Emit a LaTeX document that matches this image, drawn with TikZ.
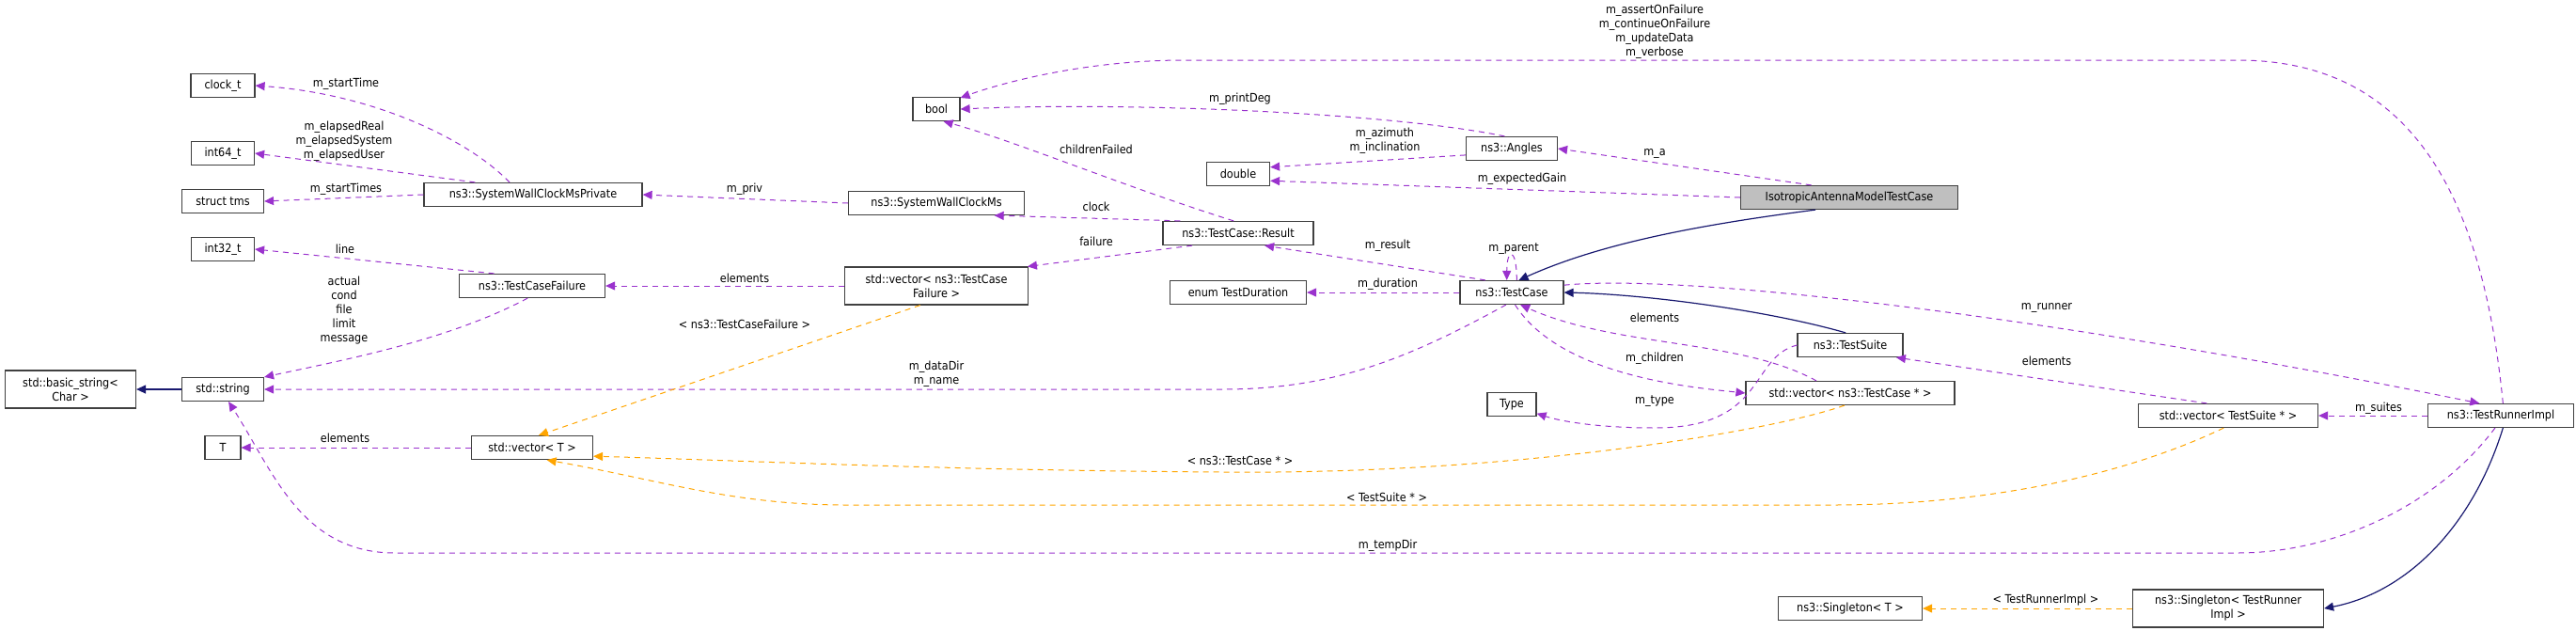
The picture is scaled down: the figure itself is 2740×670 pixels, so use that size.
\documentclass[tikz,border=0pt]{standalone}
\usepackage{fontspec}
\setmainfont{DejaVu Sans Condensed}
\usetikzlibrary{arrows.meta}
\definecolor{mp}{HTML}{9A32CD}
\definecolor{og}{HTML}{FFA500}
\definecolor{nb}{HTML}{191970}
\begin{document}
\begin{tikzpicture}[x=1pt,y=-1pt,
  font=\fontsize{12.5}{15}\selectfont,
  box/.style={draw=black!75,line width=1.2pt,fill=white,minimum height=25pt,inner sep=4pt,align=center},
  tip/.style={-{Triangle[length=10pt,width=9pt]}},
  mem/.style={tip,draw=mp,dash pattern=on 6pt off 5pt,line width=1pt},
  tpl/.style={tip,draw=og,dash pattern=on 6pt off 5pt,line width=1pt},
  inh/.style={tip,draw=nb,line width=1.2pt},
  lbl/.style={align=center,inner sep=0pt}]
\useasboundingbox (0,0) rectangle (2740,670);
% nodes
\node[box,minimum width=68pt] (clockt) at (237,91) {clock\_t};
\node[box,minimum width=67pt] (int64) at (237,163) {int64\_t};
\node[box,minimum width=87pt] (tms) at (237,214) {struct tms};
\node[box,minimum width=232pt] (swcmp) at (567,207) {ns3::SystemWallClockMsPrivate};
\node[box,minimum width=67pt] (int32) at (237,265) {int32\_t};
\node[box,minimum width=155pt] (tcf) at (566,304) {ns3::TestCaseFailure};
\node[box,minimum width=139pt,minimum height=40pt] (bstr) at (75,414) {std::basic\_string\textless\\Char \textgreater};
\node[box,minimum width=87pt] (str) at (237,414) {std::string};
\node[box,minimum width=38pt] (T) at (237,476) {T};
\node[box,minimum width=129pt] (vT) at (566,476) {std::vector\textless{} T \textgreater};
\node[box,minimum width=50pt] (bool) at (996,116) {bool};
\node[box,minimum width=67pt] (dbl) at (1317,185) {double};
\node[box,minimum width=97pt] (ang) at (1608,158) {ns3::Angles};
\node[box,minimum width=187pt] (swcms) at (996,216) {ns3::SystemWallClockMs};
\node[box,minimum width=160pt] (res) at (1317,248) {ns3::TestCase::Result};
\node[box,minimum width=195pt,minimum height=40pt] (vtcf) at (996,304) {std::vector\textless{} ns3::TestCase\\Failure \textgreater};
\node[box,minimum width=145pt] (enum) at (1317,311) {enum TestDuration};
\node[box,minimum width=110pt] (tc) at (1608,311) {ns3::TestCase};
\node[box,minimum width=52pt] (type) at (1608,430) {Type};
\node[box,minimum width=231pt,fill=black!25] (iso) at (1967,210) {IsotropicAntennaModelTestCase};
\node[box,minimum width=112pt] (ts) at (1968,367) {ns3::TestSuite};
\node[box,minimum width=222pt] (vtc) at (1968,418) {std::vector\textless{} ns3::TestCase * \textgreater};
\node[box,minimum width=191pt] (vts) at (2370,442) {std::vector\textless{} TestSuite * \textgreater};
\node[box,minimum width=155pt] (tri) at (2660,442) {ns3::TestRunnerImpl};
\node[box,minimum width=153pt] (sT) at (1968,647) {ns3::Singleton\textless{} T \textgreater};
\node[box,minimum width=203pt,minimum height=40pt] (stri) at (2370,647) {ns3::Singleton\textless{} TestRunner\\Impl \textgreater};
% member edges
\draw[mem] (swcmp.north) ++(-25,0) .. controls (500,150) and (400,100) .. (clockt.east);
\draw[mem] (swcmp.168) -- (int64.east);
\draw[mem] (swcmp.west) -- (tms.east);
\draw[mem] (swcms.west) -- (swcmp.east);
\draw[mem] (tcf.162) -- (int32.east);
\draw[mem] (tcf.-110) .. controls (480,360) and (380,380) .. (str.north east);
\draw[mem] (vtcf.west) -- (tcf.east);
\draw[mem] (vT.west) -- (T.east);
\draw[mem] (res.168) -- (swcms.-12);
\draw[mem] (res.-165) -- (vtcf.12);
\draw[mem] (res.110) .. controls (1200,200) and (1080,150) .. (bool.-60);
\draw[mem] (ang.120) .. controls (1480,120) and (1200,108) .. (bool.east);
\draw[mem] (ang.188) -- (dbl.12);
\draw[mem] (iso.162) -- (ang.east);
\draw[mem] (iso.west) -- (dbl.-12);
\draw[mem] (tc.155) -- (res.-25);
\draw[mem] (tc.68) .. controls +(0,-35) and +(0,-35) .. (tc.112);
\draw[mem] (tc.west) -- (enum.east);
\draw[mem] (tc.-115) .. controls (1500,380) and (1420,414) .. (1300,414) -- (str.east);
\draw[mem] (tc.-75) .. controls (1660,400) and (1800,412) .. (vtc.west);
\draw[mem] (vtc.160) .. controls (1850,360) and (1720,370) .. (tc.-55);
\draw[mem] (ts.west) .. controls (1860,380) and (1880,455) .. (1760,455) .. controls (1700,455) and (1660,448) .. (type.-20);
\draw[mem] (tc.8) .. controls (1800,290) and (2200,340) .. (tri.150);
\draw[mem] (vts.150) -- (ts.-15);
\draw[mem] (tri.west) -- (vts.east);
\draw[mem] (tri.80) .. controls (2640,200) and (2560,64) .. (2380,64) -- (1260,64) .. controls (1150,64) and (1060,90) .. (bool.25);
\draw[mem] (tri.-115) .. controls (2590,540) and (2480,588) .. (2380,588) -- (420,588) .. controls (320,588) and (290,500) .. (str.-65);
% inheritance
\draw[inh] (iso.200) .. controls (1800,240) and (1700,260) .. (tc.60);
\draw[inh] (ts.110) .. controls (1880,330) and (1750,313) .. (tc.east);
\draw[inh] (str.west) -- (bstr.east);
\draw[inh] (tri.-80) .. controls (2630,560) and (2560,630) .. (stri.east);
% templates
\draw[tpl] (vtcf.-130) -- (vT.62);
\draw[tpl] (vtc.-115) .. controls (1880,460) and (1600,505) .. (1300,502) .. controls (1000,500) and (800,490) .. (vT.-8);
\draw[tpl] (vts.-110) .. controls (2250,510) and (2100,537) .. (1950,537) -- (900,537) .. controls (780,537) and (700,510) .. (vT.-40);
\draw[tpl] (stri.west) -- (sT.east);
% labels
\node[lbl] (l1) at (368,89) {m\_startTime};
\node[lbl] (l2) at (366,150) {m\_elapsedReal\\m\_elapsedSystem\\m\_elapsedUser};
\node[lbl] (l3) at (368,201) {m\_startTimes};
\node[lbl] (l4) at (792,201) {m\_priv};
\node[lbl] (l5) at (367,265) {line};
\node[lbl] (l6) at (366,330) {actual\\cond\\file\\limit\\message};
\node[lbl] (l7) at (792,296) {elements};
\node[lbl] (l8) at (367,466) {elements};
\node[lbl] (l9) at (792,345) {\textless{} ns3::TestCaseFailure \textgreater};
\node[lbl] (l10) at (1166,220) {clock};
\node[lbl] (l11) at (1166,257) {failure};
\node[lbl] (l12) at (1166,159) {childrenFailed};
\node[lbl] (l13) at (1319,105) {m\_printDeg};
\node[lbl] (l14) at (1473,150) {m\_azimuth\\m\_inclination};
\node[lbl] (l15) at (1760,163) {m\_a};
\node[lbl] (l16) at (1619,190) {m\_expectedGain};
\node[lbl] (l17) at (1476,261) {m\_result};
\node[lbl] (l18) at (1610,265) {m\_parent};
\node[lbl] (l19) at (1476,302) {m\_duration};
\node[lbl] (l20) at (996,398) {m\_dataDir\\m\_name};
\node[lbl] (l21) at (1760,381) {m\_children};
\node[lbl] (l22) at (1760,338) {elements};
\node[lbl] (l23) at (1760,427) {m\_type};
\node[lbl] (l24) at (2177,327) {m\_runner};
\node[lbl] (l25) at (2177,384) {elements};
\node[lbl] (l26) at (2530,434) {m\_suites};
\node[lbl] (l27) at (1760,34) {m\_assertOnFailure\\m\_continueOnFailure\\m\_updateData\\m\_verbose};
\node[lbl] (l28) at (1476,580) {m\_tempDir};
\node[lbl] (l29) at (1319,490) {\textless{} ns3::TestCase * \textgreater};
\node[lbl] (l30) at (1475,529) {\textless{} TestSuite * \textgreater};
\node[lbl] (l31) at (2176,638) {\textless{} TestRunnerImpl \textgreater};
\end{tikzpicture}
\end{document}
